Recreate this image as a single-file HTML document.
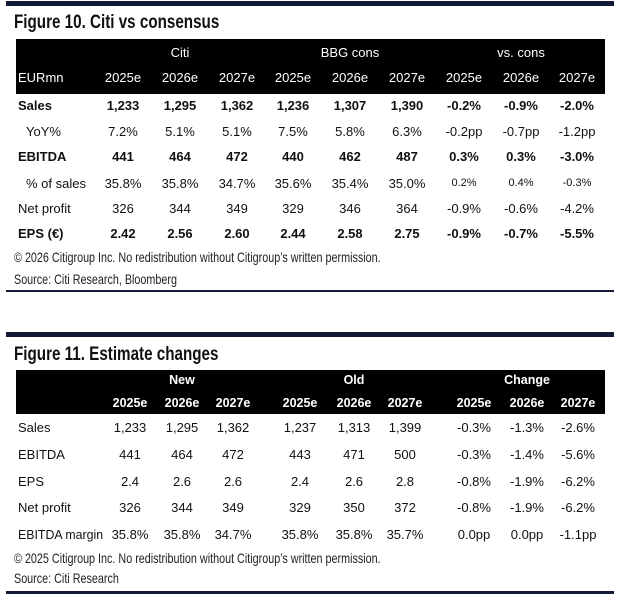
<!DOCTYPE html>
<html><head><meta charset="utf-8">
<style>
body{margin:0;width:624px;height:603px;background:#fff;position:relative;overflow:hidden;font-family:"Liberation Sans",Arial,sans-serif;color:#111}
.line{position:absolute;background:#121a35}
.title{position:absolute;left:14px;font-family:"Liberation Sans",sans-serif;font-size:19px;font-weight:bold;color:#111;transform:scaleX(0.8);transform-origin:left top;white-space:nowrap}
.note{position:absolute;left:14px;font-family:"Liberation Sans",sans-serif;font-size:14px;color:#222;transform:scaleX(0.77);transform-origin:left top;white-space:nowrap}
.hdr{position:absolute;left:16px;width:589px;background:#000}
.c{position:absolute;font-size:13px;white-space:nowrap;transform:translateX(-50%)}
.l{position:absolute;font-size:13px;white-space:nowrap}
.w{color:#fff}
.b{font-weight:bold}
</style></head><body>
<div class="line" style="left:6px;top:1px;width:608px;height:5px"></div>
<div class="title" style="top:12px">Figure 10. Citi vs consensus</div>
<div class="hdr" style="top:39px;height:55px"></div>
<div class="note" style="top:249px">© 2026 Citigroup Inc. No redistribution without Citigroup’s written permission.</div>
<div class="note" style="top:271px">Source: Citi Research, Bloomberg</div>
<div class="line" style="left:6px;top:290px;width:608px;height:2px"></div>

<div class="line" style="left:6px;top:332px;width:608px;height:5px"></div>
<div class="title" style="top:344px">Figure 11. Estimate changes</div>
<div class="hdr" style="top:370px;height:44px"></div>
<div class="note" style="top:550px">© 2025 Citigroup Inc. No redistribution without Citigroup’s written permission.</div>
<div class="note" style="top:570px">Source: Citi Research</div>
<div class="line" style="left:6px;top:591px;width:608px;height:3px"></div>

<script>
const t1Groups=["Citi","BBG cons","vs. cons"];
const t1Years=["2025e","2026e","2027e","2025e","2026e","2027e","2025e","2026e","2027e"];
const t1Labels=["Sales","YoY%","EBITDA","% of sales","Net profit","EPS (€)"];
const t1Bold=[true,false,true,false,false,true];
const t1Indent=[false,true,false,true,false,false];
const t1Rows=[
["1,233","1,295","1,362","1,236","1,307","1,390","-0.2%","-0.9%","-2.0%"],
["7.2%","5.1%","5.1%","7.5%","5.8%","6.3%","-0.2pp","-0.7pp","-1.2pp"],
["441","464","472","440","462","487","0.3%","0.3%","-3.0%"],
["35.8%","35.8%","34.7%","35.6%","35.4%","35.0%","0.2%","0.4%","-0.3%"],
["326","344","349","329","346","364","-0.9%","-0.6%","-4.2%"],
["2.42","2.56","2.60","2.44","2.58","2.75","-0.9%","-0.7%","-5.5%"]];
const t2Groups=["New","Old","Change"];
const t2Years=["2025e","2026e","2027e","2025e","2026e","2027e","2025e","2026e","2027e"];
const t2Labels=["Sales","EBITDA","EPS","Net profit","EBITDA margin"];
const t2Rows=[
["1,233","1,295","1,362","1,237","1,313","1,399","-0.3%","-1.3%","-2.6%"],
["441","464","472","443","471","500","-0.3%","-1.4%","-5.6%"],
["2.4","2.6","2.6","2.4","2.6","2.8","-0.8%","-1.9%","-6.2%"],
["326","344","349","329","350","372","-0.8%","-1.9%","-6.2%"],
["35.8%","35.8%","34.7%","35.8%","35.8%","35.7%","0.0pp","0.0pp","-1.1pp"]];

const t1X=[123,180,237,293,350,407,464,521,577];
const t2X=[130,182,233,300,354,405,474,527,578];
function mk(cls,txt,x,y,name){
 const d=document.createElement('div');
 d.className=cls;d.textContent=txt;d.style.left=x+'px';d.style.top=y+'px';
 
 
 document.body.appendChild(d);return d;}
t1Groups.forEach((g,i)=>mk('c w',g,t1X[i*3+1],45,'fig10-group-'+i));
mk('l w','EURmn',18,70,'fig10-unit');
t1Years.forEach((y,i)=>mk('c w',y,t1X[i],70,'fig10-year-'+i));
const t1Y=[98,124,149,176,201,226];
t1Labels.forEach((lab,r)=>{
 mk('l'+(t1Bold[r]?' b':''),lab,t1Indent[r]?26:18,t1Y[r],'fig10-row-label');
 t1Rows[r].forEach((v,c)=>{const e=mk('c'+(t1Bold[r]?' b':''),v,t1X[c],t1Y[r],'fig10-cell');
  if(r===3&&c>=6){e.style.fontSize='11px';e.style.top=(t1Y[r]+1)+'px';}});
});
t2Groups.forEach((g,i)=>{const e=mk('c w b',g,t2X[i*3+1],373,'fig11-group-'+i);e.style.fontSize='12.5px';});
t2Years.forEach((y,i)=>{const e=mk('c w b',y,t2X[i],396,'fig11-year-'+i);e.style.fontSize='12.5px';});
const t2Y=[420,447,474,500,527];
t2Labels.forEach((lab,r)=>{
 const e=mk('l',lab,18,t2Y[r],'fig11-row-label');
 if(r===4){e.style.transform='scaleX(0.95)';e.style.transformOrigin='left top';}
 t2Rows[r].forEach((v,c)=>mk('c',v,t2X[c],t2Y[r],'fig11-cell'));
});
</script>
</body></html>
